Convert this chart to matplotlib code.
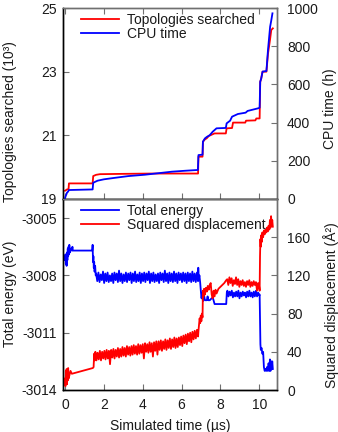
import numpy as np
import matplotlib
matplotlib.use("Agg")
import matplotlib.pyplot as plt

plt.rcParams['font.family'] = ['Liberation Sans', 'DejaVu Sans']
plt.rcParams['font.size'] = 10
plt.rcParams['axes.unicode_minus'] = False

# ---------------- top panel data ----------------
t_topo = [0.00, 0.10, 0.18, 0.20, 1.42, 1.45, 1.60, 1.80, 3.00, 4.50, 6.00, 6.85,
          6.87, 7.08, 7.10, 7.20, 7.30, 7.40, 7.70, 8.28, 8.32, 8.60, 8.65, 9.28,
          9.32, 9.80, 9.85, 10.02, 10.05, 10.10, 10.17, 10.37, 10.45, 10.55, 10.62, 10.70]
topo = [19.26, 19.30, 19.31, 19.49, 19.49, 19.72, 19.76, 19.78, 19.79, 19.80, 19.80, 19.80,
        20.33, 20.33, 20.80, 20.87, 20.91, 20.98, 21.06, 21.06, 21.22, 21.23, 21.40, 21.40,
        21.46, 21.47, 21.53, 21.53, 22.68, 22.78, 23.00, 23.00, 23.56, 23.98, 24.31, 24.36]

t_cpu = [0.00, 0.03, 0.06, 0.10, 0.15, 0.20, 1.42, 1.45, 1.55, 1.68, 2.00, 2.50, 3.26,
         4.10, 5.50, 6.20, 6.84, 6.87, 7.08, 7.10, 7.20, 7.30, 7.45, 7.60, 7.80, 8.28,
         8.32, 8.50, 8.60, 8.90, 9.30, 9.40, 9.95, 10.02, 10.05, 10.10, 10.17, 10.37,
         10.45, 10.56, 10.62, 10.68]
cpu = [5, 15, 22, 33, 38, 47, 50, 85, 90, 96, 103, 110, 120,
       127, 143, 148, 152, 230, 232, 300, 317, 325, 334, 352, 370, 372,
       396, 410, 431, 445, 452, 461, 475, 478, 614, 630, 667, 670,
       780, 902, 935, 972]

# ---------------- bottom panel data ----------------
# Total energy (eV)
t_en_a = [0.00, 0.02, 0.04, 0.06, 0.08, 0.10, 0.12, 0.14, 0.16, 0.18, 0.20, 0.22, 0.25,
          0.30, 0.35, 0.38, 0.40, 1.40, 1.42, 1.44, 1.46, 1.48, 1.50, 1.52, 1.55, 1.58]
en_a = [-3007.2, -3006.9, -3007.4, -3007.0, -3007.5, -3006.8, -3007.2, -3006.6, -3007.0,
        -3006.5, -3006.9, -3006.4, -3006.8, -3006.6, -3006.7, -3006.5, -3006.7, -3006.7,
        -3006.4, -3007.3, -3007.0, -3007.6, -3007.3, -3007.8, -3007.5, -3008.0]
en_b = [-3007.9, -3008.3, -3007.85, -3008.35, -3007.95, -3008.25, -3007.8, -3008.4, -3007.9, -3008.3,
        -3007.85, -3008.35, -3008.0, -3008.3, -3007.9, -3008.4, -3007.85, -3008.25, -3007.9, -3008.35,
        -3007.75, -3008.3, -3007.9, -3008.4, -3007.95, -3008.3, -3007.85, -3008.35, -3007.9, -3008.25,
        -3007.85, -3008.4, -3007.9, -3008.3, -3007.8, -3008.35, -3007.95, -3008.3, -3007.85, -3008.4,
        -3007.9, -3008.3, -3007.85, -3008.35, -3007.9, -3008.25, -3007.8, -3008.4, -3007.9, -3008.3,
        -3007.85, -3008.35, -3007.95, -3008.3, -3007.9, -3008.4, -3007.85, -3008.25, -3007.9, -3008.35,
        -3007.75, -3008.3, -3007.9, -3008.4, -3007.85, -3008.3, -3007.9, -3008.35, -3007.8, -3008.3,
        -3007.9, -3008.4, -3007.85, -3008.25, -3007.9, -3008.35, -3007.85, -3008.3, -3007.9, -3008.4,
        -3007.85, -3008.3, -3007.9, -3008.35, -3007.8, -3008.3, -3007.9, -3008.35, -3007.85, -3008.3]
t_en_b = np.linspace(1.60, 6.85, len(en_b))
t_en_c = [6.86, 6.88, 6.92, 6.96, 7.00, 7.03, 7.06, 7.10, 7.15, 7.20, 7.30, 7.34, 7.38,
          7.45, 7.55, 7.62, 7.70, 7.80, 8.30, 8.33]
en_c = [-3007.6, -3008.2, -3008.0, -3008.4, -3008.9, -3009.2, -3008.9, -3009.35, -3009.0,
        -3009.3, -3009.3, -3009.1, -3009.3, -3009.3, -3009.2, -3009.2, -3009.5, -3009.5,
        -3009.5, -3008.9]
en_d = [-3008.8, -3009.1, -3008.85, -3009.05, -3008.8, -3009.15, -3008.9, -3009.1, -3008.85, -3009.1,
        -3008.8, -3009.2, -3008.9, -3009.1, -3008.85, -3009.05, -3008.9, -3009.15, -3008.85, -3009.1,
        -3008.8, -3009.1, -3008.9, -3009.15, -3008.85, -3009.1, -3008.8, -3009.1, -3008.9, -3009.05]
t_en_d = np.linspace(8.36, 10.00, len(en_d))
t_en_e = [10.02, 10.04, 10.06, 10.08, 10.12, 10.16, 10.20, 10.24, 10.28, 10.32, 10.36, 10.40,
          10.44, 10.48, 10.52, 10.55, 10.58, 10.61, 10.64, 10.67, 10.70]
en_e = [-3009.0, -3010.3, -3011.6, -3011.9, -3011.8, -3012.1, -3012.0, -3012.8, -3013.0,
        -3012.9, -3013.0, -3012.8, -3013.0, -3012.6, -3013.0, -3012.4, -3013.0, -3012.5,
        -3012.9, -3012.5, -3012.9]

# Squared displacement (A^2)
t_sd_a = [0.00, 0.02, 0.04, 0.06, 0.08, 0.10, 0.12, 0.14, 0.16, 0.18, 0.22, 0.28, 0.35,
          1.43, 1.47, 1.50, 1.53]
sd_a = [12, 4, 20, 8, 22, 6, 18, 10, 23, 12, 15, 20, 17, 23, 24, 38, 31]
sd_b = [40, 31, 39, 32, 41, 31, 40, 33, 41, 32, 42, 33, 41, 27, 42, 34, 43, 33, 42, 35,
        44, 34, 43, 35, 45, 36, 44, 35, 46, 37, 45, 36, 46, 37, 47, 38, 46, 37, 48, 38,
        47, 39, 48, 33, 49, 40, 48, 39, 50, 40, 49, 35, 50, 41, 51, 37, 51, 42, 52, 41,
        51, 43, 53, 42, 52, 44, 54, 43, 53, 45, 55, 44, 54, 45, 55, 47, 56, 46, 57, 49,
        58, 48, 59, 51, 60, 50, 61, 53, 62, 54, 63, 56]
t_sd_b = np.linspace(1.56, 6.85, len(sd_b))
t_sd_c = [6.87, 6.90, 6.93, 6.96, 6.99, 7.02, 7.05, 7.08, 7.10, 7.13, 7.16, 7.20, 7.25,
          7.30, 7.35, 7.40, 7.45, 7.50, 7.55, 7.60, 7.65, 7.70, 7.75, 7.80, 7.90, 8.00,
          8.10, 8.20, 8.30]
sd_c = [62, 68, 75, 70, 78, 72, 80, 76, 104, 98, 106, 100, 107, 103, 109, 105, 110, 112,
        100, 96, 104, 98, 105, 101, 106, 108, 110, 112, 115]
sd_d = [116, 110, 118, 112, 117, 109, 115, 111, 118, 110, 116, 108, 114, 110, 115, 109,
        113, 108, 114, 110, 115, 108, 113, 109, 114, 110, 113, 104, 112, 108]
t_sd_d = np.linspace(8.35, 10.00, len(sd_d))
t_sd_e = [10.02, 10.04, 10.06, 10.08, 10.10, 10.13, 10.16, 10.20, 10.24, 10.28, 10.32,
          10.36, 10.40, 10.44, 10.48, 10.52, 10.55, 10.58, 10.61, 10.64, 10.67, 10.70]
sd_e = [104, 140, 158, 150, 162, 155, 165, 160, 167, 163, 168, 165, 170, 166, 172, 168,
        178, 170, 182, 172, 178, 171]

t_en = np.concatenate([t_en_a, t_en_b, t_en_c, t_en_d, t_en_e])
energy = np.concatenate([en_a, en_b, en_c, en_d, en_e])
t_sd = np.concatenate([t_sd_a, t_sd_b, t_sd_c, t_sd_d, t_sd_e])
sqdisp = np.concatenate([sd_a, sd_b, sd_c, sd_d, sd_e])

x_ticks = [0, 2, 4, 6, 8, 10]
topo_ticks = [19, 21, 23, 25]
cpu_ticks = [0, 200, 400, 600, 800, 1000]
en_ticks = [-3014, -3011, -3008, -3005]
sd_ticks = [0, 40, 80, 120, 160]

RED = '#ff0000'
BLUE = '#0000ff'
GRAY = '#707070'
TXT = '#1a1a1a'

fig = plt.figure(figsize=(3.38, 4.32), dpi=100)
L, R = 63.5 / 338, 277.3 / 338
ax1 = fig.add_axes([L, 1 - 199 / 432, R - L, 191 / 432])
ax2 = fig.add_axes([L, 1 - 390 / 432, R - L, 191 / 432])
ax1b = ax1.twinx()
ax2b = ax2.twinx()

lw = 1.3
l1, = ax1.plot(t_topo, topo, color=RED, lw=lw, label='Topologies searched')
l2, = ax1b.plot(t_cpu, cpu, color=BLUE, lw=lw, label='CPU time')
l3, = ax2.plot(t_en, energy, color=BLUE, lw=lw, label='Total energy')
l4, = ax2b.plot(t_sd, sqdisp, color=RED, lw=lw, label='Squared displacement')

xlim = (-0.08, 10.93)
for a in (ax1, ax2):
    a.set_xlim(*xlim)
    a.set_xticks(x_ticks)
ax1.set_ylim(19, 25)
ax1.set_yticks(topo_ticks)
ax1b.set_ylim(0, 1000)
ax1b.set_yticks(cpu_ticks)
ax2.set_ylim(-3014, -3004)
ax2.set_yticks(en_ticks)
ax2b.set_ylim(0, 200)
ax2b.set_yticks(sd_ticks)

for a in (ax1, ax2, ax1b, ax2b):
    a.spines['left'].set_color('black')
    a.spines['bottom'].set_color('black')
    a.spines['right'].set_color(GRAY)
    a.spines['top'].set_color(GRAY)
    for s in a.spines.values():
        s.set_linewidth(1.0)

ax1.tick_params(axis='x', direction='in', length=4, width=0.8, top=True, bottom=True,
                labelbottom=False, colors=GRAY, labelcolor=TXT)
ax2.tick_params(axis='x', direction='in', length=4, width=0.8, top=False, bottom=True,
                labelbottom=True, pad=6, colors=GRAY, labelcolor=TXT)
for a in (ax1, ax2):
    a.tick_params(axis='y', direction='in', length=4, width=0.8, left=True, right=False,
                  pad=5, colors=GRAY, labelcolor=TXT)
for a in (ax1b, ax2b):
    a.tick_params(axis='y', direction='in', length=4, width=0.8, left=False, right=True,
                  pad=7, colors=GRAY, labelcolor=TXT)

ax1.set_ylabel('Topologies searched (10³)', color=TXT)
ax1.yaxis.set_label_coords(-0.2175, 0.408)
ax1b.set_ylabel('CPU time (h)', color=TXT)
ax1b.yaxis.set_label_coords(1.215, 0.471)
ax2.set_ylabel('Total energy (eV)', color=TXT)
ax2.yaxis.set_label_coords(-0.2175, 0.503)
ax2b.set_ylabel('Squared displacement (Å²)', color=TXT)
ax2b.yaxis.set_label_coords(1.212, 0.445)
ax2.set_xlabel('Simulated time (µs)', color=TXT, labelpad=5)

leg_kw = dict(loc='upper left', frameon=False, borderpad=0, borderaxespad=0,
              handlelength=2.7, handletextpad=0.6, labelspacing=0.0)
lg1 = ax1b.legend([l1, l2], ['Topologies searched', 'CPU time'],
                  bbox_to_anchor=(0.082, 0.975), **leg_kw)
lg2 = ax2b.legend([l3, l4], ['Total energy', 'Squared displacement'],
                  bbox_to_anchor=(0.082, 0.975), **leg_kw)
for lg in (lg1, lg2):
    for tx in lg.get_texts():
        tx.set_color(TXT)

fig.savefig('out.png', dpi=100)
